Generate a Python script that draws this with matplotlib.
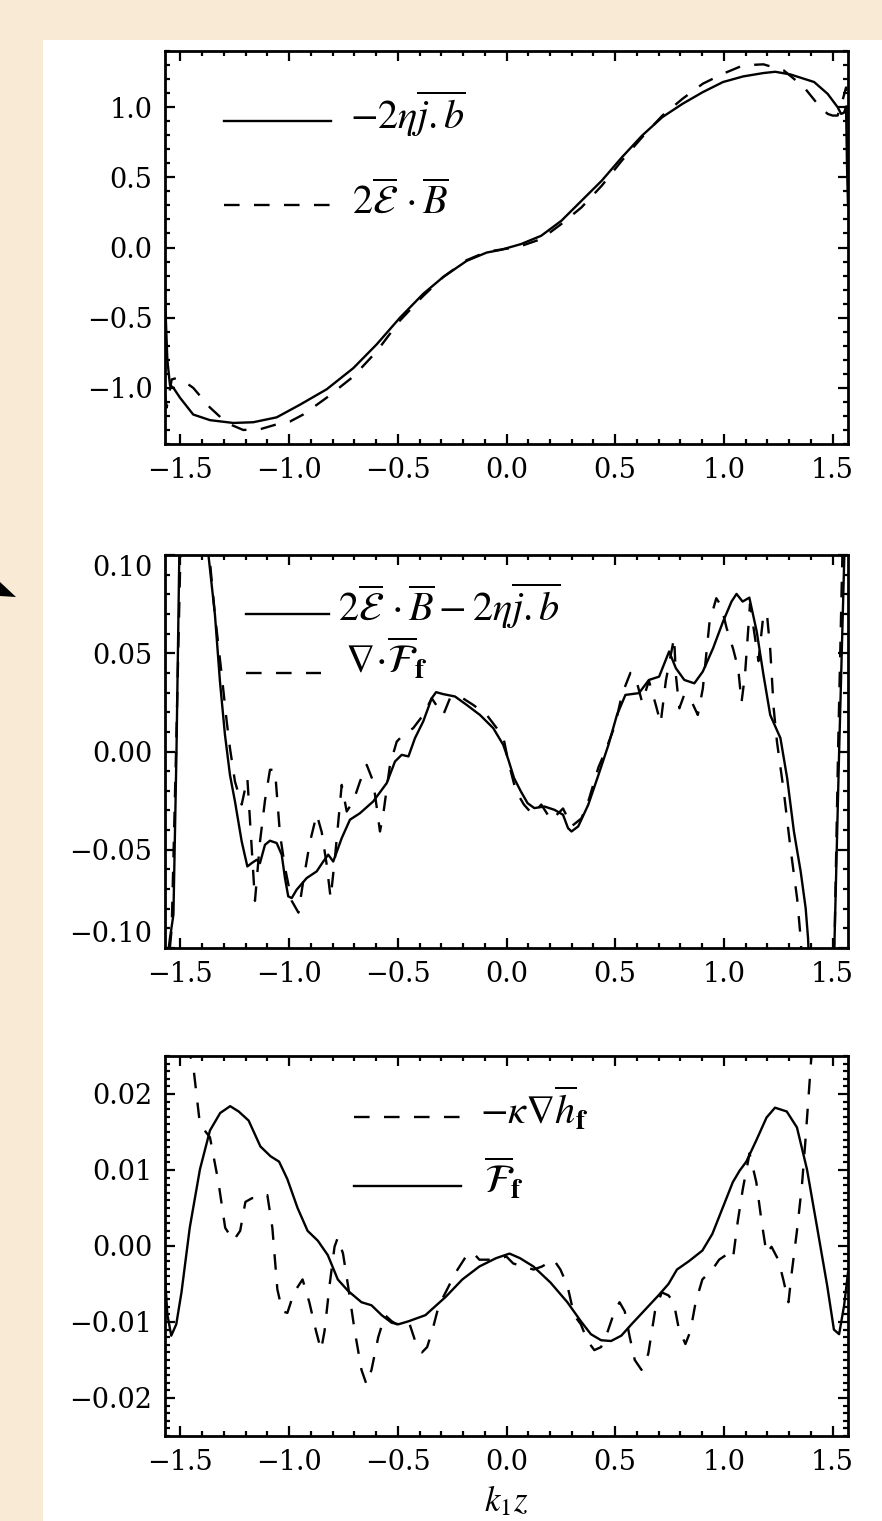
import numpy as np
import matplotlib
matplotlib.use("Agg")
import matplotlib.pyplot as plt
from matplotlib.ticker import MultipleLocator, FuncFormatter
from matplotlib.patches import Polygon

# ---------------- data ----------------
x_ticks = [-1.5, -1.0, -0.5, 0.0, 0.5, 1.0, 1.5]
p1_yticks = [-1.0, -0.5, 0.0, 0.5, 1.0]
p2_yticks = [-0.10, -0.05, 0.0, 0.05, 0.10]
p3_yticks = [-0.02, -0.01, 0.0, 0.01, 0.02]

# panel 1: -2 eta j.b (solid) and 2 E.B (dashed)
p1_solid = np.array([
    (-1.5708, -0.35), (-1.560, -0.80), (-1.548, -0.98), (-1.532, -1.00), (-1.502, -1.07),
    (-1.441, -1.19), (-1.364, -1.23), (-1.257, -1.25), (-1.165, -1.245), (-1.057, -1.21),
    (-0.950, -1.12), (-0.827, -1.01), (-0.705, -0.86), (-0.597, -0.69), (-0.490, -0.50),
    (-0.383, -0.33), (-0.291, -0.21), (-0.183, -0.095), (-0.091, -0.036), (-0.027, -0.017),
    (0.066, 0.024), (0.159, 0.083), (0.252, 0.19), (0.345, 0.333), (0.438, 0.476),
    (0.531, 0.643), (0.624, 0.798), (0.717, 0.929), (0.810, 1.024), (0.903, 1.107),
    (0.996, 1.179), (1.089, 1.219), (1.182, 1.243), (1.236, 1.252), (1.306, 1.233),
    (1.415, 1.179), (1.477, 1.095), (1.523, 1.0), (1.539, 0.952), (1.552, 0.96),
    (1.562, 1.0), (1.566, 0.6), (1.5708, 0.3)])
p1_dash = np.array([
    (-1.5708, -1.05), (-1.563, -1.14), (-1.540, -0.94), (-1.517, -0.93), (-1.487, -0.95),
    (-1.441, -1.0), (-1.364, -1.14), (-1.287, -1.25), (-1.211, -1.30), (-1.134, -1.295),
    (-1.057, -1.26), (-0.996, -1.24), (-0.935, -1.19), (-0.827, -1.07), (-0.705, -0.92),
    (-0.597, -0.74), (-0.490, -0.52), (-0.383, -0.345), (-0.291, -0.21), (-0.183, -0.09),
    (-0.091, -0.03), (0.016, -0.005), (0.066, 0.01), (0.159, 0.06), (0.252, 0.167),
    (0.345, 0.286), (0.438, 0.44), (0.531, 0.62), (0.624, 0.786), (0.717, 0.94),
    (0.810, 1.06), (0.903, 1.167), (0.996, 1.238), (1.089, 1.298), (1.182, 1.305),
    (1.275, 1.262), (1.368, 1.143), (1.430, 1.024), (1.477, 0.952), (1.500, 0.94),
    (1.523, 0.94), (1.546, 1.05), (1.562, 1.14), (1.5708, 0.5)])

# panel 2: 2E.B - 2 eta j.b (solid) and div F_f (dashed)
p2_solid = np.array([
    (-1.5708, -0.13), (-1.565, -0.11), (-1.548, -0.095), (-1.532, -0.083), (-1.518, 0.0),
    (-1.505, 0.1), (-1.47, 0.18), (-1.42, 0.2), (-1.39, 0.15), (-1.371, 0.100),
    (-1.341, 0.0695), (-1.318, 0.0356), (-1.295, 0.0085), (-1.272, -0.0119), (-1.249, -0.0254),
    (-1.218, -0.0458), (-1.192, -0.0585), (-1.172, -0.0568), (-1.149, -0.0551), (-1.134, -0.0568),
    (-1.111, -0.0475), (-1.088, -0.0454), (-1.057, -0.0466), (-1.034, -0.0525), (-1.019, -0.0644),
    (-1.004, -0.0737), (-0.988, -0.0746), (-0.965, -0.0703), (-0.919, -0.0644), (-0.873, -0.061),
    (-0.843, -0.056), (-0.820, -0.0525), (-0.797, -0.056), (-0.758, -0.0441), (-0.720, -0.0347),
    (-0.674, -0.0314), (-0.613, -0.0254), (-0.551, -0.0161), (-0.513, -0.0051), (-0.482, -0.0017),
    (-0.451, -0.0025), (-0.421, 0.0068), (-0.383, 0.0153), (-0.344, 0.0271), (-0.324, 0.0302),
    (-0.291, 0.0292), (-0.237, 0.028), (-0.183, 0.0237), (-0.122, 0.0186), (-0.061, 0.0119),
    (-0.015, 0.0034), (0.008, -0.004), (0.035, -0.0136), (0.066, -0.0203), (0.097, -0.0263),
    (0.128, -0.0288), (0.175, -0.028), (0.221, -0.0297), (0.260, -0.0322), (0.283, -0.039),
    (0.299, -0.0407), (0.330, -0.0381), (0.376, -0.0271), (0.423, -0.0119), (0.469, 0.0034),
    (0.508, 0.0186), (0.547, 0.0288), (0.609, 0.0297), (0.655, 0.0364), (0.702, 0.0381),
    (0.748, 0.0509), (0.779, 0.0424), (0.818, 0.0364), (0.864, 0.0347), (0.903, 0.0407),
    (0.950, 0.0525), (0.996, 0.0661), (1.035, 0.0763), (1.058, 0.0802), (1.086, 0.0763),
    (1.117, 0.0783), (1.151, 0.061), (1.182, 0.039), (1.213, 0.0186), (1.260, 0.0068),
    (1.291, -0.0136), (1.322, -0.0407), (1.353, -0.061), (1.376, -0.0797), (1.387, -0.095),
    (1.40, -0.13), (1.44, -0.3), (1.49, -0.14), (1.508, -0.1), (1.53, 0.0),
    (1.554, 0.1), (1.5708, 0.14)])
p2_dash = np.array([
    (-1.5708, -0.13), (-1.565, -0.12), (-1.54, -0.09), (-1.52, 0.0), (-1.50, 0.1),
    (-1.46, 0.2), (-1.40, 0.2), (-1.367, 0.1), (-1.341, 0.0695), (-1.310, 0.039),
    (-1.287, 0.0153), (-1.272, 0.0017), (-1.249, -0.0153), (-1.218, -0.027), (-1.192, -0.0136),
    (-1.172, -0.049), (-1.157, -0.076), (-1.134, -0.046), (-1.111, -0.025), (-1.088, -0.0093),
    (-1.065, -0.0093), (-1.042, -0.042), (-1.019, -0.059), (-0.988, -0.076), (-0.957, -0.082),
    (-0.935, -0.066), (-0.904, -0.046), (-0.873, -0.032), (-0.850, -0.041), (-0.827, -0.0576),
    (-0.809, -0.0746), (-0.789, -0.054), (-0.758, -0.017), (-0.735, -0.0305), (-0.705, -0.0254),
    (-0.674, -0.0153), (-0.643, -0.0068), (-0.613, -0.0153), (-0.582, -0.0407), (-0.567, -0.032),
    (-0.536, -0.0068), (-0.505, 0.005), (-0.475, 0.0085), (-0.429, 0.0119), (-0.383, 0.0186),
    (-0.344, 0.0271), (-0.313, 0.022), (-0.291, 0.0186), (-0.260, 0.0271), (-0.214, 0.028),
    (-0.153, 0.0237), (-0.091, 0.0186), (-0.045, 0.0119), (-0.015, 0.0076), (0.008, -0.005),
    (0.043, -0.02), (0.080, -0.027), (0.120, -0.032), (0.160, -0.027), (0.206, -0.035),
    (0.260, -0.029), (0.300, -0.038), (0.345, -0.034), (0.380, -0.024), (0.423, -0.008),
    (0.454, 0.0), (0.500, 0.0136), (0.531, 0.029), (0.570, 0.04), (0.593, 0.038),
    (0.624, 0.025), (0.655, 0.036), (0.686, 0.024), (0.709, 0.0144), (0.733, 0.036),
    (0.771, 0.058), (0.779, 0.039), (0.795, 0.022), (0.818, 0.029), (0.849, 0.026),
    (0.880, 0.0186), (0.903, 0.032), (0.934, 0.066), (0.965, 0.078), (0.988, 0.074),
    (1.012, 0.063), (1.043, 0.052), (1.066, 0.042), (1.081, 0.025), (1.097, 0.039),
    (1.120, 0.075), (1.143, 0.058), (1.159, 0.046), (1.182, 0.07), (1.198, 0.07),
    (1.213, 0.052), (1.229, 0.022), (1.244, 0.005), (1.275, -0.020), (1.306, -0.049),
    (1.337, -0.075), (1.353, -0.095), (1.365, -0.12), (1.42, -0.3), (1.49, -0.14),
    (1.51, -0.09), (1.525, 0.0), (1.545, 0.1), (1.5708, 0.16)])

# panel 3: F_f (solid) and -kappa grad h_f (dashed)
p3_solid = np.array([
    (-1.5708, -0.004), (-1.56, -0.009), (-1.542, -0.0118), (-1.519, -0.0103), (-1.495, -0.0061),
    (-1.457, 0.0024), (-1.41, 0.0101), (-1.364, 0.0152), (-1.317, 0.0175), (-1.271, 0.0184),
    (-1.232, 0.0177), (-1.186, 0.0165), (-1.132, 0.0131), (-1.085, 0.0118), (-1.046, 0.0111),
    (-1.008, 0.0088), (-0.961, 0.005), (-0.915, 0.002), (-0.868, 0.0007), (-0.822, -0.0012),
    (-0.776, -0.0044), (-0.729, -0.0059), (-0.667, -0.0074), (-0.621, -0.0078), (-0.574, -0.0091),
    (-0.528, -0.0101), (-0.497, -0.0103), (-0.450, -0.0099), (-0.373, -0.0091), (-0.280, -0.0067),
    (-0.203, -0.0044), (-0.125, -0.0027), (-0.048, -0.0016), (0.014, -0.001), (0.062, -0.0016),
    (0.124, -0.0027), (0.202, -0.0048), (0.280, -0.0074), (0.342, -0.0099), (0.388, -0.0116),
    (0.435, -0.0124), (0.481, -0.0125), (0.528, -0.0118), (0.575, -0.0103), (0.637, -0.0084),
    (0.699, -0.0065), (0.745, -0.005), (0.784, -0.0031), (0.839, -0.002), (0.901, -0.0006),
    (0.947, 0.0016), (0.994, 0.005), (1.041, 0.0084), (1.072, 0.0099), (1.103, 0.0111),
    (1.149, 0.0139), (1.196, 0.0169), (1.235, 0.0182), (1.289, 0.0177), (1.336, 0.0156),
    (1.382, 0.0101), (1.429, 0.0024), (1.475, -0.0052), (1.506, -0.011), (1.530, -0.0116),
    (1.553, -0.0078), (1.5708, -0.0035)])
p3_dash = np.array([
    (-1.5708, 0.035), (-1.50, 0.0252), (-1.48, 0.0245), (-1.465, 0.026), (-1.441, 0.0237),
    (-1.41, 0.016), (-1.364, 0.0143), (-1.325, 0.0084), (-1.294, 0.0024), (-1.256, 0.0007),
    (-1.225, 0.002), (-1.201, 0.0058), (-1.17, 0.0063), (-1.132, 0.0063), (-1.1, 0.0067),
    (-1.077, 0.0024), (-1.054, -0.0057), (-1.031, -0.0086), (-1.008, -0.0088), (-0.977, -0.0061),
    (-0.938, -0.0044), (-0.907, -0.0074), (-0.876, -0.0112), (-0.853, -0.0137), (-0.837, -0.0112),
    (-0.814, -0.0052), (-0.791, -0.0001), (-0.776, 0.0011), (-0.752, -0.001), (-0.729, -0.0052),
    (-0.698, -0.0112), (-0.667, -0.0163), (-0.644, -0.0182), (-0.621, -0.0163), (-0.590, -0.012),
    (-0.559, -0.0091), (-0.528, -0.0099), (-0.505, -0.0103), (-0.450, -0.0099), (-0.42, -0.0125),
    (-0.389, -0.014), (-0.365, -0.0133), (-0.342, -0.0112), (-0.311, -0.0078), (-0.28, -0.0061),
    (-0.234, -0.0035), (-0.187, -0.0014), (-0.156, -0.0008), (-0.125, -0.0018), (-0.063, -0.0018),
    (0.0, -0.0014), (0.031, -0.0023), (0.124, -0.0031), (0.163, -0.0027), (0.217, -0.0018),
    (0.248, -0.0031), (0.28, -0.0052), (0.311, -0.0091), (0.342, -0.0103), (0.373, -0.0125),
    (0.404, -0.0137), (0.435, -0.0133), (0.466, -0.0112), (0.497, -0.0086), (0.520, -0.0074),
    (0.544, -0.0086), (0.567, -0.012), (0.590, -0.015), (0.621, -0.0163), (0.652, -0.0142),
    (0.683, -0.0086), (0.714, -0.0061), (0.745, -0.0065), (0.769, -0.0074), (0.792, -0.0108),
    (0.823, -0.0129), (0.846, -0.0112), (0.870, -0.0074), (0.901, -0.0044), (0.947, -0.0031),
    (0.978, -0.0018), (1.009, -0.0012), (1.041, -0.0018), (1.064, 0.0033), (1.087, 0.0075),
    (1.118, 0.0122), (1.149, 0.0084), (1.173, 0.0033), (1.196, -0.001), (1.219, -0.0001),
    (1.25, -0.0018), (1.273, -0.0044), (1.297, -0.0074), (1.312, -0.0035), (1.336, 0.002),
    (1.359, 0.008), (1.374, 0.0135), (1.39, 0.0199), (1.405, 0.026), (1.44, 0.04)])

p1_labels = [r"$-2\eta\overline{j.b}$", r"$2\overline{\mathcal{E}}\,\cdot\overline{B}$"]
p2_labels = [r"$2\overline{\mathcal{E}}\,\cdot\overline{B}-2\eta\overline{j.b}$",
             r"$\nabla\!\cdot\!\overline{\mathcal{F}}_{\mathbf{f}}$"]
p3_labels = [r"$-\kappa\nabla\overline{h}_{\mathbf{f}}$", r"$\overline{\mathcal{F}}_{\mathbf{f}}$"]
x_label = r"$k_1 z$"

# ---------------- figure ----------------
W, H, DPI = 882, 1521, 100
BEIGE = "#F9EAD6"
plt.rcParams["mathtext.fontset"] = "stix"
plt.rcParams["font.family"] = ["DejaVu Serif"]

fig = plt.figure(figsize=(W / DPI, H / DPI), dpi=DPI)
fig.patch.set_facecolor(BEIGE)
# white page area behind the axes
bg = fig.add_axes([43 / W, 0, 1 - 43 / W, 1 - 40 / H], zorder=-10)
bg.set_facecolor("white")
bg.set_xticks([])
bg.set_yticks([])
for s in bg.spines.values():
    s.set_visible(False)
# arrow head at left edge
fig.patches.append(Polygon([(0 / W, 1 - 582 / H), (16 / W, 1 - 597 / H), (0 / W, 1 - 596 / H)],
                           closed=True, transform=fig.transFigure, facecolor="black",
                           edgecolor="none", zorder=5))

LW = 1.7
DASH = (0, (6.6, 6.1))
L, R = 165, 848
TICKSIZE = 19.5
LABSIZE = 29


def fmt(n):
    def f(v, pos):
        if abs(v) < 1e-12:
            v = 0.0
        return ("%.*f" % (n, v)).replace("-", "\u2212")
    return FuncFormatter(f)


def make_ax(top, bot, ylim, yticks, ymin, ydec):
    ax = fig.add_axes([L / W, 1 - bot / H, (R - L) / W, (bot - top) / H], zorder=2)
    ax.set_xlim(-np.pi / 2, np.pi / 2)
    ax.set_ylim(*ylim)
    ax.set_xticks(x_ticks)
    ax.set_yticks(yticks)
    ax.xaxis.set_minor_locator(MultipleLocator(0.1))
    ax.yaxis.set_minor_locator(MultipleLocator(ymin))
    ax.xaxis.set_major_formatter(fmt(1))
    ax.yaxis.set_major_formatter(fmt(ydec))
    ax.tick_params(which="both", direction="in", top=True, right=True,
                   labelsize=TICKSIZE, width=1.6, colors="black")
    ax.tick_params(which="major", length=7.5, pad=9)
    ax.tick_params(which="minor", length=3.8)
    for s in ax.spines.values():
        s.set_linewidth(2.0)
    ax.set_facecolor("white")
    return ax, (top, bot)


def legend_item(ax, box, x0, x1, y, ls, text, tx, ty, size=LABSIZE):
    top, bot = box
    fx = lambda px: (px - L) / (R - L)
    fy = lambda py: (bot - py) / (bot - top)
    ax.plot([fx(x0), fx(x1)], [fy(y), fy(y)], color="black", lw=LW, ls=ls,
            transform=ax.transAxes, clip_on=False)
    ax.text(fx(tx), fy(ty), text, transform=ax.transAxes, fontsize=size,
            ha="left", va="baseline", color="black")


# panel 1
ax1, b1 = make_ax(51, 444, (-1.4, 1.4), p1_yticks, 0.1, 1)
ax1.plot(p1_solid[:, 0], p1_solid[:, 1], color="black", lw=LW)
ax1.plot(p1_dash[:, 0], p1_dash[:, 1], color="black", lw=LW, ls=DASH)
legend_item(ax1, b1, 224, 331, 121, "-", p1_labels[0], 350, 129)
legend_item(ax1, b1, 224, 331, 205, DASH, p1_labels[1], 352, 213)

# panel 2
ax2, b2 = make_ax(555, 948, (-0.1, 0.1), p2_yticks, 0.01, 2)
ax2.plot(p2_solid[:, 0], p2_solid[:, 1], color="black", lw=LW)
ax2.plot(p2_dash[:, 0], p2_dash[:, 1], color="black", lw=LW, ls=DASH)
legend_item(ax2, b2, 246, 329, 614, "-", p2_labels[0], 338, 621)
legend_item(ax2, b2, 246, 321, 673, DASH, p2_labels[1], 345, 674)
yt = ax2.yaxis.get_major_ticks()
yt[0].label1.set_verticalalignment("bottom")
yt[-1].label1.set_verticalalignment("top")

# panel 3
ax3, b3 = make_ax(1056, 1436, (-0.025, 0.025), p3_yticks, 0.001, 2)
ax3.plot(p3_solid[:, 0], p3_solid[:, 1], color="black", lw=LW)
ax3.plot(p3_dash[:, 0], p3_dash[:, 1], color="black", lw=LW, ls=DASH)
legend_item(ax3, b3, 354, 461, 1117, DASH, p3_labels[0], 480, 1125)
legend_item(ax3, b3, 354, 461, 1186, "-", p3_labels[1], 484, 1194)
ax3.set_xlabel(x_label, fontsize=25, va="bottom")
ax3.xaxis.set_label_coords(0.5, -(1518 - 1436) / (1436 - 1056))

fig.savefig("out.png", dpi=DPI, facecolor=fig.get_facecolor())
